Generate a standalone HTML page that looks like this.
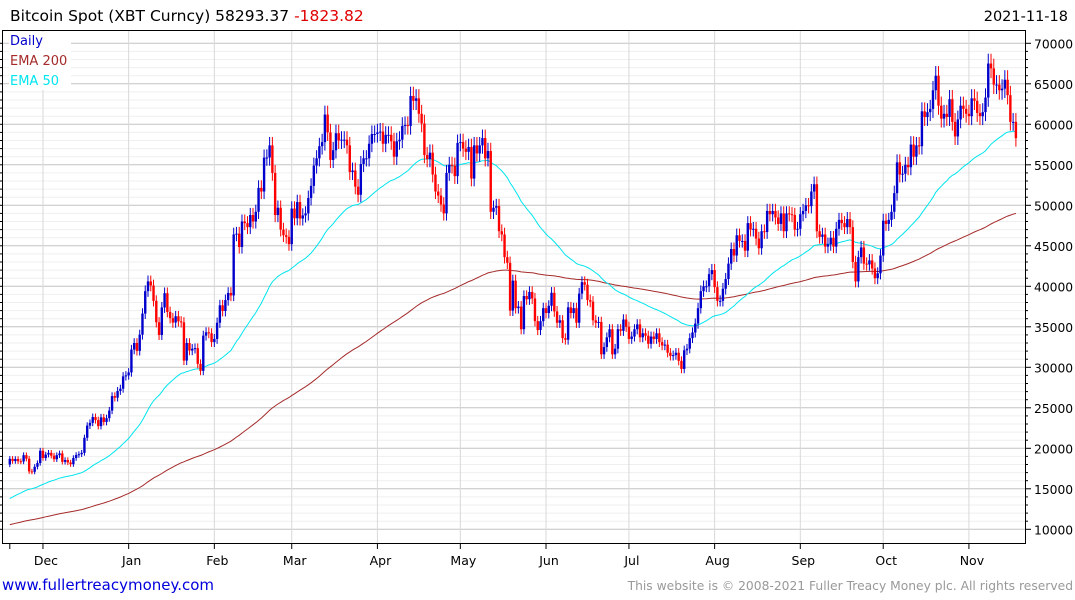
<!DOCTYPE html>
<html><head><meta charset="utf-8"><style>
body{margin:0;background:#fff;width:1075px;height:600px;overflow:hidden;font-family:"DejaVu Sans","Liberation Sans",sans-serif}
svg{display:block}
</style></head><body>
<svg id="c" width="1075" height="600" xmlns="http://www.w3.org/2000/svg">
<text x="10" y="21" font-size="15.5" fill="#000">Bitcoin Spot (XBT Curncy) 58293.37 <tspan fill="#e00000">-1823.82</tspan></text>
<text x="1068" y="21" font-size="14.5" text-anchor="end" fill="#000">2021-11-18</text>
<g id="grid"></g><g id="ema"></g><g id="bars"></g>
<rect x="2.5" y="30.5" width="1023" height="513" fill="none" stroke="#000"/>
<g id="axes"></g>
<g font-size="13">
<rect x="9" y="32" width="62" height="58" fill="#fff"/>
<text x="10" y="45" fill="#0000cc">Daily</text>
<text x="10" y="65" fill="#a52a2a">EMA 200</text>
<text x="10" y="85" fill="#00e5ee">EMA 50</text>
</g>
<text x="2" y="590" font-size="15" fill="#0000dd">www.fullertreacymoney.com</text>
<text x="1073" y="590" font-size="12.3" text-anchor="end" fill="#999">This website is © 2008-2021 Fuller Treacy Money plc. All rights reserved</text>
</svg>
<script>
const startDate = "2020-11-19";
const closes = [
18700,18420,18680,18400,18370,19150,18720,17150,17100,17720,18180,19700,
18800,19220,19440,19090,18650,19150,19370,18330,18550,18250,18040,18800,19170,19270,19440,21300,22800,23140,23860,23480,22740,23820,23250,23720,24660,26440,26250,27080,27360,28880,29000,
29370,32190,33000,32030,34030,36630,39400,40600,40100,38200,35560,33990,37390,39150,36830,36070,35520,36300,35670,35550,30830,33000,32070,32290,32360,30430,29560,33910,34320,34200,33110,
33500,35500,37650,36950,38300,39180,38870,46400,46500,44850,48000,47800,47300,48800,48000,49200,52150,51700,55880,55900,57400,54000,48800,49700,47000,46300,46100,45200,
49600,48400,50400,48370,48750,49000,50900,52400,54900,55800,57300,57800,61200,59000,55600,56800,58900,58000,58100,58100,57400,54100,54300,52300,51300,55100,55800,55800,57600,58800,58800,
59000,59100,57600,58700,58700,57900,56000,57900,58100,59800,59900,59800,63500,62900,63200,61300,60100,56200,55700,56500,53800,51700,51200,50100,49000,54000,55000,54900,53600,57700,
57800,57000,56600,57200,53300,57400,56400,57400,58300,55800,56700,49200,49700,49900,46800,46400,43600,42900,37000,40700,37300,37500,34700,38800,38400,39300,38500,35700,34600,35700,37300,
36700,37600,39200,36900,35500,35800,33600,33400,37400,36700,37300,35500,39100,40500,40200,38300,38100,35800,35500,35600,31600,32500,33700,34700,31600,32300,34700,34500,35900,35000,
33500,33800,34700,35300,33700,34200,33900,32900,33800,33500,34200,33100,32700,32800,31800,31400,31500,31800,30800,29800,32100,32300,33600,34300,35400,37300,39400,40000,40000,41500,42000,
39900,38200,38200,39700,40900,42800,44600,43800,46300,45600,45600,44400,47800,47000,47100,45900,44700,46800,46700,49300,48900,49300,48500,47700,49000,46800,49000,48900,48800,47000,47100,
48900,49300,50000,49900,51700,52600,46800,46100,46400,44900,45200,46000,44900,47100,48200,47800,47300,48300,47300,43000,40600,43600,44800,42800,42700,43200,42200,41000,41600,43800,
48100,47700,48200,49200,51500,55300,53800,53900,55000,54700,57500,56000,57400,57300,61600,60900,61500,61900,64200,66000,62300,60700,61300,60900,63100,60300,58500,60600,62300,61900,61300,
61000,63200,62900,61400,61000,61500,63300,67500,66900,64900,64900,64200,64400,65500,63600,60300,60300,58293];
const firstOpen = 18000;
const ema200Seed = 10500;
const ema50Seed = 13600;
const yTicks = [10000,15000,20000,25000,30000,35000,40000,45000,50000,55000,60000,65000,70000];
const monthLabels = ["Dec","Jan","Feb","Mar","Apr","May","Jun","Jul","Aug","Sep","Oct","Nov"];
const monthStarts = ["2020-12-01","2021-01-01","2021-02-01","2021-03-01","2021-04-01","2021-05-01","2021-06-01","2021-07-01","2021-08-01","2021-09-01","2021-10-01","2021-11-01"];

const NS="http://www.w3.org/2000/svg";
const day0=Date.parse(startDate);
const dayIndex=d=>(Date.parse(d)-day0)/86400000;
const X=i=>9.8+i*2.764;
const Y=v=>43.3+(70000-v)*0.0081;
function mk(tag,attrs,parent){const e=document.createElementNS(NS,tag);for(const k in attrs)e.setAttribute(k,attrs[k]);document.getElementById(parent).appendChild(e);return e;}

for(let v=10000;v<=70000;v+=1000){
  const major=v%5000===0;
  const l=mk('line',{x1:3,x2:1025,y1:Y(v),y2:Y(v),stroke:major?'#c4c4c4':'#efefef','stroke-width':1},'grid');
  
  
}
monthStarts.forEach((d,k)=>{
  const x=X(dayIndex(d));
  const l=mk('line',{x1:x,x2:x,y1:31,y2:543,stroke:'#d8d8d8'},'grid');
  
  
  const t=mk('line',{x1:x,x2:x,y1:543,y2:549,stroke:'#000'},'axes');
  
  
  const tx=mk('text',{x:x+3,y:565,'font-size':12.5,'text-anchor':'middle',fill:'#000'},'axes');
  tx.textContent=monthLabels[k];
  
  
});
{const t=mk('line',{x1:X(0),x2:X(0),y1:543,y2:549,stroke:'#000'},'axes');

}
for(let v=10000;v<=70000;v+=1000){
  const major=v%5000===0;
  const t=mk('line',{x1:1025,x2:major?1031:1028,y1:Y(v),y2:Y(v),stroke:'#000'},'axes');
  
  
  const t2=mk('line',{x1:0,x2:2,y1:Y(v),y2:Y(v),stroke:'#000'},'axes');
  
  
}
yTicks.forEach(v=>{
  const tx=mk('text',{x:1034,y:Y(v)+5,'font-size':12.3,fill:'#000'},'axes');
  tx.textContent=v;
  
  
});

closes.forEach((c,i)=>{
  const o=i===0?firstOpen:closes[i-1];
  const up=c>=o;
  const hi=Math.max(o,c)*1.018, lo=Math.min(o,c)*0.982;
  const col=up?'#0000cc':'#ff0000';
  const x=X(i);
  const w=mk('line',{x1:x,x2:x,y1:Y(hi),y2:Y(lo),stroke:col,'stroke-width':1},'bars');
  
  
  const top=Y(Math.max(o,c)),bot=Y(Math.min(o,c));
  const b=mk('rect',{x:x-1.2,y:top,width:2.4,height:Math.max(1,bot-top),fill:col},'bars');
  
  
});

function ema(seed,n){let e=seed;const a=2/(n+1);return closes.map(c=>(e=e+a*(c-e)));}
[[ema(ema200Seed,200),'#a52a2a','ema200-line'],[ema(ema50Seed,50),'#00e5ee','ema50-line']].forEach(([s,col,nm])=>{
  const p=mk('polyline',{points:s.map((v,i)=>X(i).toFixed(1)+','+Y(v).toFixed(1)).join(' '),fill:'none',stroke:col,'stroke-width':1},'ema');
  
  
});
</script>
</body></html>
